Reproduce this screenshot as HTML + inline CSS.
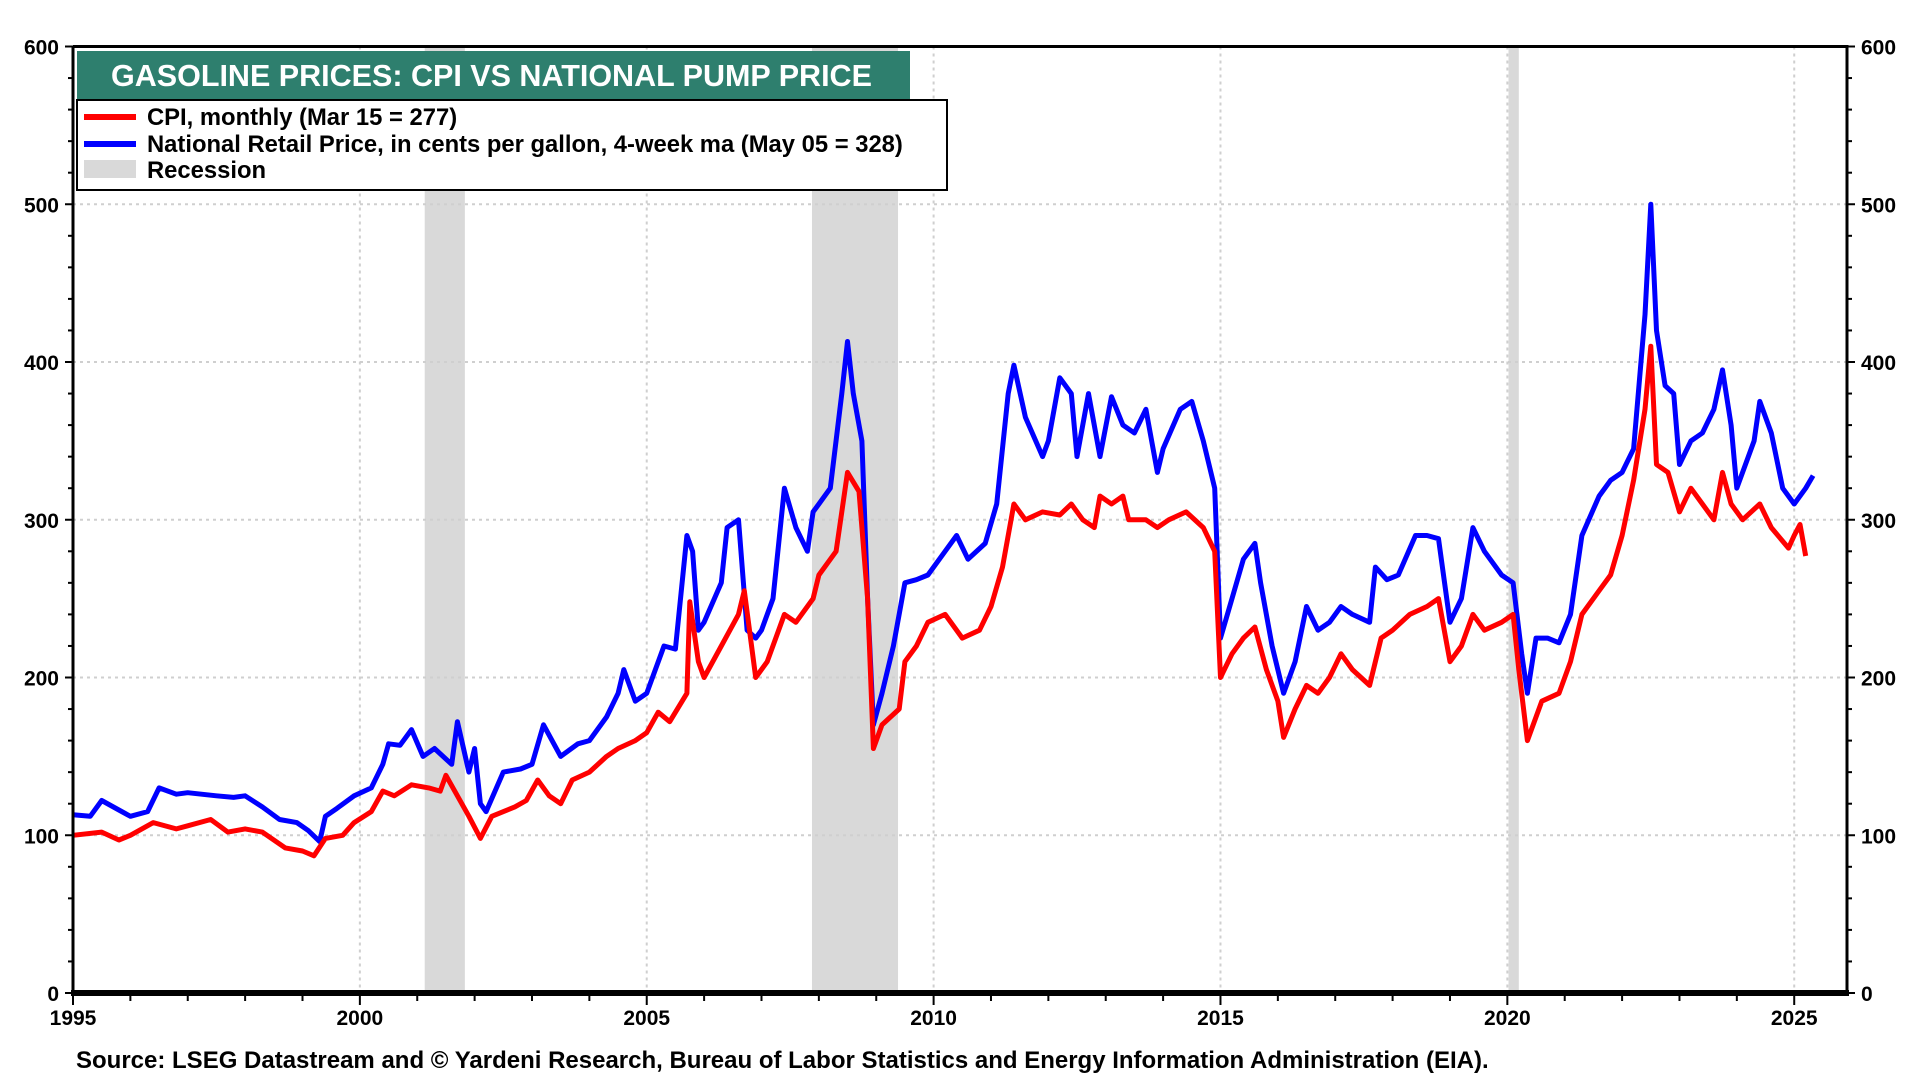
<!DOCTYPE html>
<html><head><meta charset="utf-8"><style>
html,body{margin:0;padding:0;background:#fff}
svg{display:block;font-family:"Liberation Sans",Arial,sans-serif;font-weight:bold}
</style></head><body>
<svg id="chart" width="1920" height="1080" viewBox="0 0 1920 1080"></svg>
<script>
const cpiDates=[1995.0,1995.5,1995.8,1996.0,1996.4,1996.8,1997.0,1997.4,1997.7,1998.0,1998.3,1998.7,1999.0,1999.2,1999.4,1999.7,1999.9,2000.2,2000.4,2000.6,2000.9,2001.2,2001.4,2001.5,2001.7,2001.9,2002.1,2002.3,2002.7,2002.9,2003.1,2003.3,2003.5,2003.7,2004.0,2004.3,2004.5,2004.8,2005.0,2005.2,2005.4,2005.7,2005.75,2005.9,2006.0,2006.3,2006.6,2006.7,2006.9,2007.1,2007.4,2007.6,2007.9,2008.0,2008.3,2008.5,2008.7,2008.85,2008.95,2009.1,2009.4,2009.5,2009.7,2009.9,2010.2,2010.5,2010.8,2011.0,2011.2,2011.4,2011.6,2011.9,2012.2,2012.4,2012.6,2012.8,2012.9,2013.1,2013.3,2013.4,2013.7,2013.9,2014.1,2014.4,2014.7,2014.9,2015.0,2015.2,2015.4,2015.6,2015.8,2016.0,2016.1,2016.3,2016.5,2016.7,2016.9,2017.1,2017.3,2017.6,2017.8,2018.0,2018.3,2018.6,2018.8,2019.0,2019.2,2019.4,2019.6,2019.9,2020.1,2020.2,2020.35,2020.6,2020.9,2021.1,2021.3,2021.6,2021.8,2022.0,2022.2,2022.4,2022.5,2022.6,2022.8,2023.0,2023.2,2023.4,2023.6,2023.75,2023.9,2024.1,2024.4,2024.6,2024.9,2025.0,2025.1,2025.2];
const cpiValues=[100,102,97,100,108,104,106,110,102,104,102,92,90,87,98,100,108,115,128,125,132,130,128,138,125,112,98,112,118,122,135,125,120,135,140,150,155,160,165,178,172,190,248,210,200,220,240,255,200,210,240,235,250,265,280,330,318,250,155,170,180,210,220,235,240,225,230,245,270,310,300,305,303,310,300,295,315,310,315,300,300,295,300,305,295,280,200,215,225,232,205,185,162,180,195,190,200,215,205,195,225,230,240,245,250,210,220,240,230,235,240,205,160,185,190,210,240,255,265,290,325,370,410,335,330,305,320,310,300,330,310,300,310,295,282,290,297,277];
const retailDates=[1995.0,1995.3,1995.5,1995.8,1996.0,1996.3,1996.5,1996.8,1997.0,1997.5,1997.8,1998.0,1998.3,1998.6,1998.9,1999.1,1999.3,1999.4,1999.6,1999.9,2000.2,2000.4,2000.5,2000.7,2000.9,2001.1,2001.3,2001.6,2001.7,2001.9,2002.0,2002.1,2002.2,2002.5,2002.8,2003.0,2003.2,2003.5,2003.8,2004.0,2004.3,2004.5,2004.6,2004.8,2005.0,2005.3,2005.5,2005.7,2005.8,2005.9,2006.0,2006.3,2006.4,2006.6,2006.75,2006.9,2007.0,2007.2,2007.4,2007.6,2007.8,2007.9,2008.0,2008.2,2008.4,2008.5,2008.6,2008.75,2008.85,2008.95,2009.1,2009.3,2009.5,2009.7,2009.9,2010.2,2010.4,2010.6,2010.9,2011.1,2011.3,2011.4,2011.6,2011.9,2012.0,2012.2,2012.4,2012.5,2012.7,2012.9,2013.1,2013.3,2013.5,2013.7,2013.9,2014.0,2014.3,2014.5,2014.7,2014.9,2015.0,2015.2,2015.4,2015.6,2015.7,2015.9,2016.1,2016.3,2016.5,2016.7,2016.9,2017.1,2017.3,2017.6,2017.7,2017.9,2018.1,2018.4,2018.6,2018.8,2019.0,2019.2,2019.4,2019.6,2019.9,2020.1,2020.25,2020.35,2020.5,2020.7,2020.9,2021.1,2021.3,2021.6,2021.8,2022.0,2022.2,2022.4,2022.5,2022.6,2022.75,2022.9,2023.0,2023.2,2023.4,2023.6,2023.75,2023.9,2024.0,2024.3,2024.4,2024.6,2024.8,2025.0,2025.2,2025.33];
const retailValues=[113,112,122,116,112,115,130,126,127,125,124,125,118,110,108,103,96,112,117,125,130,145,158,157,167,150,155,145,172,140,155,120,115,140,142,145,170,150,158,160,175,190,205,185,190,220,218,290,280,230,235,260,295,300,230,225,230,250,320,295,280,305,310,320,380,413,380,350,250,170,190,220,260,262,265,280,290,275,285,310,380,398,365,340,350,390,380,340,380,340,378,360,355,370,330,345,370,375,350,320,225,250,275,285,260,220,190,210,245,230,235,245,240,235,270,262,265,290,290,288,235,250,295,280,265,260,215,190,225,225,222,240,290,315,325,330,345,430,500,420,385,380,335,350,355,370,395,360,320,350,375,355,320,310,320,328];
const recessionStarts=[2001.13,2007.88,2020.02];
const recessionEnds=[2001.83,2009.38,2020.2];
const yTicks=[0,100,200,300,400,500,600];
const xTicks=[1995,2000,2005,2010,2015,2020,2025];

const NS='http://www.w3.org/2000/svg';
const svg=document.getElementById('chart');
const L=73,R=1847,T=46.5,B=993;
const X0=1995,X1=2025.92,Y0=0,Y1=600;
const xs=v=>L+(v-X0)/(X1-X0)*(R-L);
const ys=v=>B-(v-Y0)/(Y1-Y0)*(B-T);
function mk(tag,attrs,parent){const e=document.createElementNS(NS,tag);for(const k in attrs)e.setAttribute(k,attrs[k]);(parent||svg).appendChild(e);return e;}

recessionStarts.forEach((s,i)=>{
  const r=mk('rect',{x:xs(s),y:T,width:xs(recessionEnds[i])-xs(s),height:B-T,fill:'#d9d9d9'});
  
  
});
yTicks.forEach(v=>{
  if(v>0&&v<600){const g=mk('line',{x1:L,x2:R,y1:ys(v),y2:ys(v),stroke:'#cfcfcf','stroke-width':2,'stroke-dasharray':'3,4'});
  
  }
});
xTicks.forEach(v=>{
  if(v>1995){const g=mk('line',{x1:xs(v),x2:xs(v),y1:T,y2:B,stroke:'#cfcfcf','stroke-width':2,'stroke-dasharray':'3,4'});
  
  }
});
function line(d,v,color,name){
  const p=d.map((x,i)=>(i?'L':'M')+xs(x).toFixed(1)+','+ys(v[i]).toFixed(1)).join('');
  const e=mk('path',{d:p,fill:'none',stroke:color,'stroke-width':5,'stroke-linejoin':'round'});
  
  
}
line(retailDates,retailValues,'#0000ff','retail-price-line');
line(cpiDates,cpiValues,'#ff0000','cpi-line');
const fr=mk('path',{d:`M${L},${T}H${R}V${B}`,fill:'none',stroke:'#000','stroke-width':3});


const la=mk('line',{x1:L,x2:L,y1:T,y2:B,stroke:'#000','stroke-width':3});


const ba=mk('line',{x1:L-2,x2:R+2,y1:B,y2:B,stroke:'#000','stroke-width':6});


for(let v=0;v<=600;v+=20){
  const len=v%100===0?8:5;
  mk('line',{x1:L-len,x2:L,y1:ys(v),y2:ys(v),stroke:'#000','stroke-width':2});
  mk('line',{x1:R,x2:R+len,y1:ys(v),y2:ys(v),stroke:'#000','stroke-width':2});
}
yTicks.forEach(v=>{
  const a=mk('text',{x:L-14,y:ys(v)+8,'text-anchor':'end','font-size':21});a.textContent=v;
  
  
  const b=mk('text',{x:R+14,y:ys(v)+8,'text-anchor':'start','font-size':21});b.textContent=v;
  
  
});
for(let y=1995;y<=2025;y++){
  mk('line',{x1:xs(y),x2:xs(y),y1:B,y2:B+(y%5===0?12:8),stroke:'#000','stroke-width':2});
}
xTicks.forEach(v=>{
  const t=mk('text',{x:xs(v),y:B+32,'text-anchor':'middle','font-size':21});t.textContent=v;
  
  
});
</script>
<svg style="position:absolute;left:0;top:0" width="1920" height="1080">
  <g>
    <rect x="77" y="51" width="833" height="49" fill="#2e7f6e"/>
    <text x="111" y="86" font-size="30.5" fill="#fff" font-family="Liberation Sans, sans-serif" font-weight="bold">GASOLINE PRICES: CPI VS NATIONAL PUMP PRICE</text>
  </g>
  <g font-family="Liberation Sans, sans-serif" font-weight="bold" font-size="23.8">
    <rect x="77" y="100" width="870" height="90" fill="#fff" stroke="#000" stroke-width="2"/>
    <g><rect x="84" y="114" width="52" height="6" fill="#ff0000"/><text x="147" y="125">CPI, monthly (Mar 15 = 277)</text></g>
    <g><rect x="84" y="141" width="52" height="6" fill="#0000ff"/><text x="147" y="152">National Retail Price, in cents per gallon, 4-week ma (May 05 = 328)</text></g>
    <g><rect x="84" y="160" width="52" height="18" fill="#d9d9d9"/><text x="147" y="178">Recession</text></g>
  </g>
  <text x="76" y="1068" font-size="24" font-family="Liberation Sans, sans-serif" font-weight="bold">Source: LSEG Datastream and © Yardeni Research,  Bureau of Labor Statistics and Energy Information Administration (EIA).</text>
</svg>
</body></html>
